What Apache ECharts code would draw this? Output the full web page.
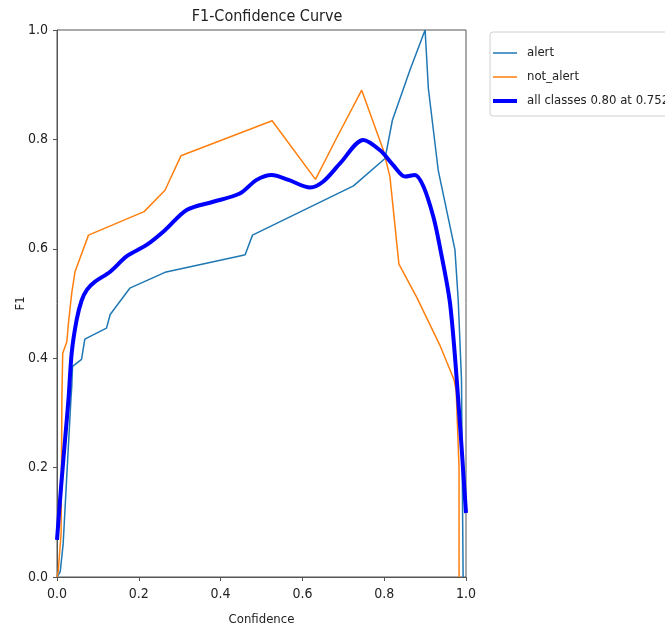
<!DOCTYPE html>
<html>
<head>
<meta charset="utf-8">
<script src="https://cdn.jsdelivr.net/npm/echarts@6/dist/echarts.min.js"></script>
<style>
  html, body { margin: 0; padding: 0; background: #fff; }
  #chart { width: 665px; height: 627px; }
</style>
</head>
<body>
<div id="chart"></div>
<script>
// F1 vs confidence
const alertX = [0, 0.008, 0.015, 0.025, 0.034, 0.036, 0.038, 0.06, 0.068, 0.121, 0.13, 0.178, 0.264, 0.447, 0.46, 0.478, 0.725, 0.802, 0.82, 0.863, 0.9, 0.908, 0.932, 0.973, 0.981, 0.989, 0.993];
const alertY = [0, 0.01, 0.06, 0.2, 0.324, 0.347, 0.385, 0.398, 0.435, 0.455, 0.48, 0.528, 0.557, 0.587, 0.589, 0.625, 0.715, 0.765, 0.835, 0.927, 1.0, 0.893, 0.744, 0.598, 0.506, 0.36, 0];

const notAlertX = [0, 0.003, 0.01, 0.012, 0.014, 0.024, 0.028, 0.036, 0.044, 0.077, 0.213, 0.264, 0.303, 0.526, 0.632, 0.684, 0.745, 0.798, 0.814, 0.836, 0.879, 0.936, 0.971, 0.976, 0.983, 0.983];
const notAlertY = [0, 0.01, 0.08, 0.33, 0.409, 0.43, 0.464, 0.519, 0.558, 0.625, 0.668, 0.707, 0.77, 0.834, 0.727, 0.803, 0.89, 0.78, 0.732, 0.572, 0.512, 0.424, 0.36, 0.34, 0.2, 0];

const allX = [0, 0.01, 0.02, 0.028, 0.036, 0.048, 0.06, 0.073, 0.093, 0.13, 0.17, 0.219, 0.264, 0.317, 0.382, 0.447, 0.488, 0.525, 0.566, 0.619, 0.651, 0.692, 0.749, 0.79, 0.822, 0.851, 0.875, 0.896, 0.92, 0.936, 0.961, 0.981, 1.0];
const allY = [0.068, 0.165, 0.254, 0.324, 0.41, 0.47, 0.505, 0.525, 0.54, 0.558, 0.586, 0.607, 0.634, 0.671, 0.686, 0.701, 0.726, 0.735, 0.726, 0.712, 0.723, 0.756, 0.799, 0.78, 0.753, 0.732, 0.735, 0.714, 0.659, 0.604, 0.5, 0.324, 0.117];

const seriesNames = ['alert', 'not_alert', 'all classes 0.80 at 0.752'];
const tickLabels = ['0.0', '0.2', '0.4', '0.6', '0.8', '1.0'];

const zip = (xs, ys) => xs.map((x, i) => [x, ys[i]]);

// legend icons: plain line, tiny corner specks keep the 24x16 box
const thinIcon = 'path://M0,0L0.01,0L0,0.01Z M24,16L23.99,16L24,15.99Z M0,7.25H24V8.75H0Z';
const thickIcon = 'path://M0,0L0.01,0L0,0.01Z M24,16L23.99,16L24,15.99Z M0,6H24V10H0Z';

const font = '"DejaVu Sans Condensed", "DejaVu Sans", sans-serif';
const chart = echarts.init(document.getElementById('chart'));

const axisCommon = {
    type: 'value',
    min: 0,
    max: 1,
    interval: 0.2,
    splitLine: { show: false },
    axisLine: { show: true, lineStyle: { color: '#555', width: 1 } },
    axisTick: { show: true, length: 4, lineStyle: { color: '#555' } },
    axisLabel: {
        color: '#222',
        fontSize: 14,
        fontFamily: font,
        formatter: (v) => tickLabels[Math.round(v * 5)]
    },
    nameLocation: 'middle',
    nameMoveOverlap: false,
    nameTextStyle: { color: '#222', fontSize: 13, fontFamily: font }
};

const option = {
    animation: false,
    backgroundColor: '#fff',
    title: {
        text: 'F1-Confidence Curve',
        left: 262,
        textAlign: 'center',
        top: 4,
        textStyle: { color: '#222', fontSize: 16, fontWeight: 'normal', fontFamily: font }
    },
    legend: {
        orient: 'vertical',
        left: 490,
        top: 32,
        padding: [13, 10, 7, 3],
        itemGap: 8,
        itemWidth: 24,
        itemHeight: 16,
        borderColor: '#d0d0d0',
        borderWidth: 1,
        borderRadius: 3,
        textStyle: { color: '#222', fontSize: 13, fontFamily: font, padding: [0, 0, 0, 5] },
        data: [
            { name: seriesNames[0], icon: thinIcon },
            { name: seriesNames[1], icon: thinIcon },
            { name: seriesNames[2], icon: thickIcon }
        ]
    },
    grid: {
        left: 57,
        right: 199,
        top: 30,
        bottom: 50,
        outerBoundsMode: 'none',
        show: true,
        borderColor: '#555',
        borderWidth: 1
    },
    xAxis: Object.assign({}, axisCommon, {
        name: 'Confidence',
        nameGap: 36,
        axisLabel: Object.assign({}, axisCommon.axisLabel, { margin: 10 })
    }),
    yAxis: Object.assign({}, axisCommon, {
        name: 'F1',
        nameGap: 30,
        axisLabel: Object.assign({}, axisCommon.axisLabel, { margin: 9 })
    }),
    series: [
        {
            name: seriesNames[0],
            type: 'line',
            symbol: 'none',
            data: zip(alertX, alertY),
            lineStyle: { color: '#1f77b4', width: 1.5 },
            itemStyle: { color: '#1f77b4' }
        },
        {
            name: seriesNames[1],
            type: 'line',
            symbol: 'none',
            data: zip(notAlertX, notAlertY),
            lineStyle: { color: '#ff7f0e', width: 1.5 },
            itemStyle: { color: '#ff7f0e' }
        },
        {
            name: seriesNames[2],
            type: 'line',
            symbol: 'none',
            smooth: 0.3,
            data: zip(allX, allY),
            lineStyle: { color: '#0000ff', width: 4 },
            itemStyle: { color: '#0000ff' }
        }
    ]
};

chart.setOption(option);
</script>
</body>
</html>
